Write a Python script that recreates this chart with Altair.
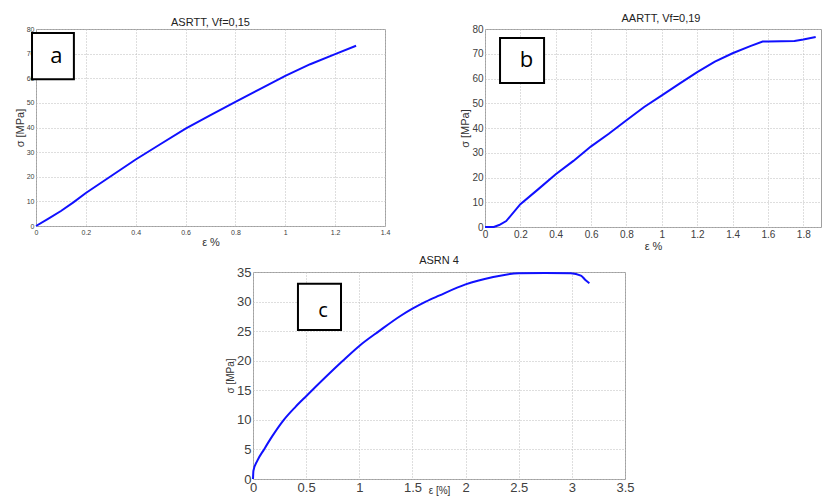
import altair as alt
import pandas as pd

# ---- data ----
a_strain = [0, 0.05, 0.1, 0.15, 0.2, 0.3, 0.4, 0.5, 0.6, 0.7, 0.8, 0.9, 1.0, 1.1, 1.2, 1.284]
a_stress = [0, 3.0, 6.1, 9.6, 13.4, 20.2, 27.0, 33.3, 39.5, 45.0, 50.4, 55.7, 61.0, 65.7, 69.8, 73.2]

b_strain = [0, 0.05, 0.08, 0.12, 0.2, 0.3, 0.4, 0.5, 0.6, 0.7, 0.8, 0.9, 1.0, 1.1, 1.2,
            1.3, 1.4, 1.5, 1.57, 1.6, 1.75, 1.8, 1.87]
b_stress = [0, 0, 0.8, 2.4, 9.2, 15.2, 21.3, 26.7, 32.6, 37.7, 43.1, 48.5, 53.2, 57.9, 62.6,
            66.8, 70.2, 73.1, 74.9, 74.9, 75.2, 75.8, 76.8]

c_strain = [0, 0.004, 0.041, 0.104, 0.18, 0.29, 0.4, 0.5, 0.84, 1.0, 1.186, 1.39, 1.5, 1.626,
            1.75, 2.0, 2.25, 2.5, 2.75, 2.99, 3.085, 3.13, 3.165]
c_stress = [0, 1.4, 3.1, 5.0, 7.2, 10.0, 12.2, 14.0, 19.9, 22.5, 25.0, 27.6, 28.8, 30.0,
            31.0, 32.9, 34.1, 34.8, 34.85, 34.8, 34.4, 33.6, 33.1]

titles = ["ASRTT, Vf=0,15", "AARTT, Vf=0,19", "ASRN 4"]
x_titles = ["ε %", "ε %", "ε [%]"]
y_title = "σ [MPa]"
letters = ["a", "b", "c"]
# label boxes in each panel's data units: x0, x1, y0, y1, text x, text y
box_a = [-0.016, 0.152, 59.6, 78.4, 0.082, 69.0]
box_b = [0.085, 0.334, 58.2, 76.4, 0.235, 67.3]
box_c = [0.423, 0.828, 25.2, 33.0, 0.66, 28.4]

a_xticks = [0, 0.2, 0.4, 0.6, 0.8, 1.0, 1.2, 1.4]
b_xticks = [0, 0.2, 0.4, 0.6, 0.8, 1.0, 1.2, 1.4, 1.6, 1.8]
c_xticks = [0, 0.5, 1.0, 1.5, 2.0, 2.5, 3.0, 3.5]
ab_yticks = [0, 10, 20, 30, 40, 50, 60, 70, 80]
c_yticks = [0, 5, 10, 15, 20, 25, 30, 35]

FONT = "Liberation Sans"
LINE = "#1010ff"
GRID = "#bdbdbd"


def panel(strain, stress, box, letter, title, xtitle, xdom, ydom, xticks, yticks,
          w, h, lab, tfs, xtp, title_off, title_dx, letter_size, interp):
    df = pd.DataFrame({"strain": strain, "stress": stress})
    bx = pd.DataFrame({"x0": [box[0]], "x1": [box[1]], "y0": [box[2]], "y1": [box[3]],
                       "tx": [box[4]], "ty": [box[5]], "t": [letter]})
    common = dict(format="~r", grid=True, gridDash=[1, 2], gridColor=GRID, domain=False,
                  ticks=False, labelFontSize=lab, labelFont=FONT, labelColor="#404040",
                  labelPadding=2, labelOverlap=False, labelFlush=False,
                  titleFont=FONT, titleFontSize=tfs, titleFontWeight="normal",
                  titleColor="#333333")
    xax = alt.Axis(values=xticks, title=xtitle, titlePadding=xtp, **common)
    yax = alt.Axis(values=yticks, title=y_title, titlePadding=1, **common)
    xs = alt.Scale(domain=xdom, nice=False, zero=False)
    ys = alt.Scale(domain=ydom, nice=False, zero=False)
    line = alt.Chart(df).mark_line(color=LINE, strokeWidth=2, interpolate=interp).encode(
        x=alt.X("strain:Q", scale=xs, axis=xax),
        y=alt.Y("stress:Q", scale=ys, axis=yax),
    )
    rect = alt.Chart(bx).mark_rect(fill="white", stroke="black", strokeWidth=2).encode(
        x=alt.X("x0:Q", scale=xs, axis=xax), x2="x1:Q",
        y=alt.Y("y0:Q", scale=ys, axis=yax), y2="y1:Q")
    txt = alt.Chart(bx).mark_text(font="Open Sans", fontSize=letter_size, color="black",
                                  baseline="middle", align="center").encode(
        x=alt.X("tx:Q", scale=xs, axis=xax),
        y=alt.Y("ty:Q", scale=ys, axis=yax), text="t:N")
    return alt.layer(line, rect, txt).properties(
        width=w, height=h,
        title=alt.TitleParams(title, font=FONT, fontSize=11, fontWeight="normal",
                              color="#222222", offset=title_off, dx=title_dx, frame="group"),
        view=alt.ViewBackground(stroke="#a0a0a0", fill="white"),
    )


pa = panel(a_strain, a_stress, box_a, letters[0], titles[0], x_titles[0], [0, 1.4], [0, 80],
           a_xticks, ab_yticks, 349, 197, 7, 11, 1, -3, 0, 22, "linear")
pb = panel(b_strain, b_stress, box_b, letters[1], titles[1], x_titles[1], [0, 1.9], [0, 80],
           b_xticks, ab_yticks, 336, 198, 10, 11, 1, 0, 8, 22, "linear")
pc = panel(c_strain, c_stress, box_c, letters[2], titles[2], x_titles[2], [0, 3.5], [0, 35],
           c_xticks, c_yticks, 372, 207, 13, 10, -9, 0, 0, 20, "monotone")

spacer = alt.Chart(pd.DataFrame({"v": [0]})).mark_point(opacity=0).encode(
    x=alt.X("v:Q", axis=None), y=alt.Y("v:Q", axis=None)
).properties(width=176, height=207, view=alt.ViewBackground(stroke="transparent"))

top = alt.hconcat(pa, pb, spacing=100, bounds="flush")
bottom = alt.hconcat(spacer, pc, spacing=12)
chart = alt.vconcat(top, bottom, spacing=2).properties(
    padding={"left": 5, "top": 4, "right": 0, "bottom": 0},
    background="white",
)

chart.save("out.html", embed_options={"renderer": "svg", "actions": False})
